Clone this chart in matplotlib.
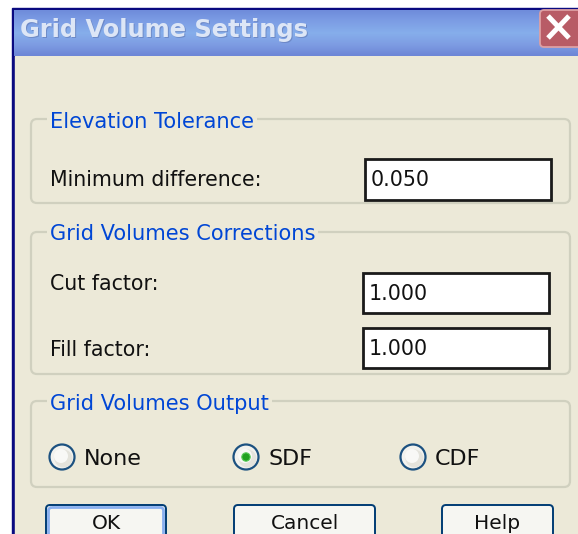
import numpy as np
import matplotlib
matplotlib.use("Agg")
from matplotlib import pyplot as plt
from matplotlib.patches import Rectangle, FancyBboxPatch, Circle

# dialog content
window_title = "Grid Volume Settings"
group_titles = ["Elevation Tolerance", "Grid Volumes Corrections", "Grid Volumes Output"]
field_labels = ["Minimum difference:", "Cut factor:", "Fill factor:"]
field_values = ["0.050", "1.000", "1.000"]
radio_options = ["None", "SDF", "CDF"]
selected_option = "SDF"
button_labels = ["OK", "Cancel", "Help"]

W, H = 578, 534
BODY = "#ECE9D8"
BLUE_TXT = "#0046D5"
FONT = "DejaVu Sans"
FS = 14.8

fig = plt.figure(figsize=(W / 100, H / 100), dpi=100)
ax = fig.add_axes([0, 0, 1, 1])
ax.set_xlim(0, W)
ax.set_ylim(H, 0)
ax.axis("off")

# white page and window frame
ax.add_patch(Rectangle((0, 0), W, H, color="white", zorder=0))
ax.add_patch(Rectangle((12, 8), W, H, color="#0A0A80", zorder=1))
ax.add_patch(Rectangle((15, 56), W, H, color=BODY, zorder=2))

# title bar gradient
cmap = matplotlib.colors.LinearSegmentedColormap.from_list(
    "tb", ["#6F8CDB", "#7D9EE5", "#86AEEB", "#7E9DE3", "#6D86D6"])
ax.imshow(np.linspace(0, 1, 50).reshape(-1, 1), cmap=cmap, aspect="auto",
          extent=(14, W, 56, 10), zorder=3)
ax.text(21, 38, window_title, fontsize=17.4, fontweight="bold", family=FONT,
        color="#5A6FA8", va="baseline", ha="left", zorder=4, alpha=0.5)
ax.text(20, 37, window_title, fontsize=17.4, fontweight="bold", family=FONT,
        color="#DDE6F6", va="baseline", ha="left", zorder=5)

# close button
ax.add_patch(FancyBboxPatch((540, 10), 50, 37, boxstyle="round,pad=0,rounding_size=4",
                            fc="#B85C66", ec="#DDA0A4", lw=1.3, zorder=6))
ax.plot([548, 569], [16, 38], color="white", lw=3.6, zorder=7, solid_capstyle="butt")
ax.plot([548, 569], [38, 16], color="white", lw=3.6, zorder=7, solid_capstyle="butt")

# group boxes: (top, bottom, title centre y)
groups = [(119, 203, 121), (232, 374, 233), (401, 487, 403)]
for title, (top, bot, ty) in zip(group_titles, groups):
    ax.add_patch(FancyBboxPatch((31, top), 539, bot - top,
                                boxstyle="round,pad=0,rounding_size=6",
                                fc="none", ec="#D0D0BF", lw=1.6, zorder=3))
    t = ax.text(50, ty + 7.5, title, fontsize=FS + 0.3, family=FONT, color=BLUE_TXT,
                va="baseline", ha="left", zorder=5)
    t.set_bbox(dict(fc=BODY, ec="none", pad=2))

# fields: (label y, box left, box top, box bottom)
fields = [(178, 365, 159, 200), (283, 363, 273, 313), (349, 363, 328, 368)]
for label, value, (ly, bx, bt, bb) in zip(field_labels, field_values, fields):
    ax.text(50, ly + 7.5, label, fontsize=FS, family=FONT, color="#111111",
            va="baseline", ha="left", zorder=5)
    ax.add_patch(Rectangle((bx, bt), 186, bb - bt, fc="white", ec="#1A1A1A",
                           lw=2.0, zorder=5))
    ax.text(bx + 6, (bt + bb) / 2 + 7, value, fontsize=FS, family=FONT,
            color="#111111", va="baseline", ha="left", zorder=6)

# radio buttons
radio_x = [62, 246, 413]
for opt, rx in zip(radio_options, radio_x):
    ax.add_patch(Circle((rx, 457), 12.5, fc="#F2F2EE", ec="#1C5180", lw=1.6, zorder=5))
    ax.add_patch(Circle((rx + 1.5, 458.5), 9, fc="#E4E3DC", ec="none", zorder=5))
    ax.add_patch(Circle((rx - 1, 456), 7, fc="#F8F8F6", ec="none", zorder=5))
    if opt == selected_option:
        ax.add_patch(Circle((rx, 457), 4.2, fc="#21A121", ec="#5CCB5C", lw=0.8, zorder=6))
    ax.text(rx + 22, 465, opt, fontsize=16, family=FONT, color="#111111",
            va="baseline", ha="left", zorder=5)

# buttons (cut off by the bottom edge, as in the screenshot)
button_x = [(46, 166), (234, 375), (442, 553)]
for i, (lab, (x0, x1)) in enumerate(zip(button_labels, button_x)):
    ax.add_patch(FancyBboxPatch((x0, 505), x1 - x0, 50,
                                boxstyle="round,pad=0,rounding_size=4",
                                fc="#F6F6F2", ec="#003C74", lw=1.4, zorder=5))
    if i == 0:
        ax.add_patch(FancyBboxPatch((x0 + 2.5, 507.5), x1 - x0 - 5, 45,
                                    boxstyle="round,pad=0,rounding_size=3",
                                    fc="none", ec="#8AB0F0", lw=2.0, zorder=6))
    ax.text((x0 + x1) / 2, 529, lab, fontsize=14.5, family=FONT, color="#111111",
            va="baseline", ha="center", zorder=7)

fig.savefig("out.png", dpi=100)
